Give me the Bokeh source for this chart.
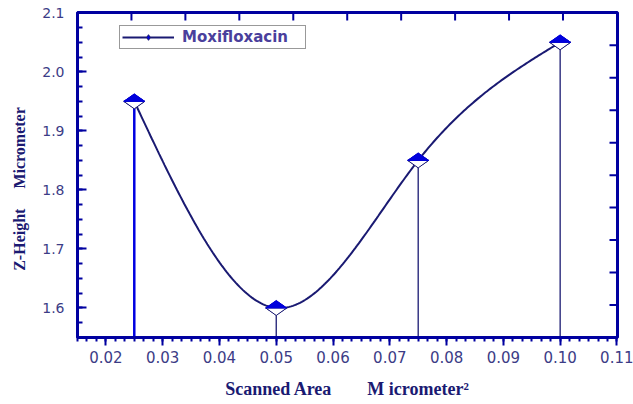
import numpy as np
from bokeh.plotting import figure
from bokeh.models import (SingleIntervalTicker, NumeralTickFormatter,
                          Range1d, Legend, LegendItem)
from bokeh.embed import file_html
from bokeh.resources import INLINE

# ---------------- data ----------------
scanned_area = [0.025, 0.050, 0.075, 0.100]
z_height = [1.95, 1.60, 1.85, 2.05]
series_name = "Moxifloxacin"
NB = "\u00a0"
x_title = "Scanned Area" + NB * 7 + " M" + NB + "icrometer\u00b2"
y_title = "Z-Height" + NB * 5 + "Micrometer" + NB * 7
top_ticks = [0.0245, 0.034, 0.0435, 0.053, 0.0625, 0.072, 0.0815, 0.091, 0.1005]
right_ticks = [1.605, 1.66, 1.715, 1.77, 1.825, 1.88, 1.935, 1.99, 2.045]

# ---------------- layout / style ----------------
X_START, X_END = 0.015, 0.1101
Y_START, Y_END = 1.55, 2.1005
FRAME_W, FRAME_H = 540, 325
AXIS_BLUE = "#0000a0"
NAVY = "#1a1a72"
TICK_LABEL = "#3c3c86"


def natural_spline(xs, ys, samples=240):
    xs = np.asarray(xs, float)
    ys = np.asarray(ys, float)
    n = len(xs)
    h = np.diff(xs)
    A = np.zeros((n, n))
    b = np.zeros(n)
    A[0, 0] = A[-1, -1] = 1.0
    for i in range(1, n - 1):
        A[i, i - 1] = h[i - 1]
        A[i, i] = 2 * (h[i - 1] + h[i])
        A[i, i + 1] = h[i]
        b[i] = 6 * ((ys[i + 1] - ys[i]) / h[i] - (ys[i] - ys[i - 1]) / h[i - 1])
    M = np.linalg.solve(A, b)
    xx = np.linspace(xs[0], xs[-1], samples)
    idx = np.clip(np.searchsorted(xs, xx) - 1, 0, n - 2)
    x0, x1 = xs[idx], xs[idx + 1]
    hh = x1 - x0
    t0, t1 = x1 - xx, xx - x0
    yy = ((M[idx] * t0 ** 3 + M[idx + 1] * t1 ** 3) / (6 * hh)
          + (ys[idx] / hh - M[idx] * hh / 6) * t0
          + (ys[idx + 1] / hh - M[idx + 1] * hh / 6) * t1)
    return xx, yy


p = figure(frame_width=FRAME_W, frame_height=FRAME_H,
           x_range=Range1d(X_START, X_END), y_range=Range1d(Y_START, Y_END),
           output_backend="svg", toolbar_location=None,
           min_border_left=77, min_border_right=16, min_border_top=12, min_border_bottom=67,
           background_fill_color="white", border_fill_color="white")
p.grid.visible = False
p.outline_line_color = AXIS_BLUE
p.outline_line_width = 3

# bottom axis
xa = p.xaxis[0]
xa.ticker = SingleIntervalTicker(interval=0.01, num_minor_ticks=6)
xa.formatter = NumeralTickFormatter(format="0.00")
xa.axis_line_color = AXIS_BLUE
xa.axis_line_width = 3
xa.major_tick_line_color = AXIS_BLUE
xa.major_tick_line_width = 2
xa.minor_tick_line_color = AXIS_BLUE
xa.minor_tick_line_width = 2
xa.major_tick_in = 0
xa.major_tick_out = 8
xa.minor_tick_in = 0
xa.minor_tick_out = 4
xa.major_label_standoff = 5
xa.major_label_text_font = "DejaVu Sans"
xa.major_label_text_font_size = "15px"
xa.major_label_text_color = TICK_LABEL
xa.axis_label = x_title
xa.axis_label_standoff = 13
xa.axis_label_text_font = "Liberation Serif"
xa.axis_label_text_font_style = "bold"
xa.axis_label_text_font_size = "18px"
xa.axis_label_text_color = NAVY

# left axis
ya = p.yaxis[0]
ya.ticker = SingleIntervalTicker(interval=0.1, num_minor_ticks=4)
ya.formatter = NumeralTickFormatter(format="0.0")
ya.axis_line_color = AXIS_BLUE
ya.axis_line_width = 3
ya.major_tick_line_color = AXIS_BLUE
ya.major_tick_line_width = 2
ya.minor_tick_line_color = AXIS_BLUE
ya.minor_tick_line_width = 2
ya.major_tick_in = 9
ya.major_tick_out = 0
ya.minor_tick_in = 5
ya.minor_tick_out = 0
ya.major_label_standoff = 13
ya.major_label_text_font = "DejaVu Sans"
ya.major_label_text_font_size = "14px"
ya.major_label_text_color = TICK_LABEL
ya.axis_label = y_title
ya.axis_label_standoff = 11
ya.axis_label_text_font = "Liberation Serif"
ya.axis_label_text_font_style = "bold"
ya.axis_label_text_font_size = "16px"
ya.axis_label_text_color = NAVY

# top and right inward ticks on the frame edges
p.ray(x=top_ticks, y=[Y_END] * len(top_ticks), length=8, length_units="screen",
      angle=-np.pi / 2, line_color=AXIS_BLUE, line_width=2)
p.ray(x=[X_END] * len(right_ticks), y=right_ticks, length=8, length_units="screen",
      angle=np.pi, line_color=AXIS_BLUE, line_width=2)

# drop lines
drop_colors = ["#0000e0", NAVY, NAVY, NAVY]
drop_widths = [2.5, 1.3, 1.3, 1.3]
p.segment(x0=scanned_area, y0=z_height, x1=scanned_area, y1=[Y_START] * len(scanned_area),
          line_color=drop_colors, line_width=drop_widths)

# spline curve
sx, sy = natural_spline(scanned_area, z_height)
line_r = p.line(sx, sy, line_color=NAVY, line_width=2)

# markers: rotated diamond (used for legend) + half-filled overlay
marker_r = p.scatter(scanned_area, z_height, marker="diamond", angle=np.pi / 2, size=21,
                     fill_color="#0000dd", line_color=NAVY, line_width=1)
px_x = (X_END - X_START) / FRAME_W
px_y = (Y_END - Y_START) / FRAME_H
hw, hh = 10.5 * px_x, 7.5 * px_y
top_xs = [[x - hw, x, x + hw] for x in scanned_area]
top_ys = [[y, y + hh, y] for y in z_height]
bot_ys = [[y, y - hh, y] for y in z_height]
p.patches(top_xs, bot_ys, fill_color="white", line_color=NAVY, line_width=1)
p.patches(top_xs, top_ys, fill_color="#0000dd", line_color="#0000dd", line_width=1)

legend = Legend(items=[LegendItem(label=series_name, renderers=[line_r, marker_r])],
                location=(42, 288), padding=2, spacing=0, margin=0,
                glyph_width=52, glyph_height=14, label_height=14, label_width=121,
                label_standoff=8,
                label_text_font="DejaVu Sans", label_text_font_style="bold",
                label_text_font_size="15px", label_text_color="#4a3f9c",
                border_line_color="#333333", border_line_width=1,
                background_fill_color="white", background_fill_alpha=1)
p.add_layout(legend, "center")

open("out.html", "w").write(file_html(p, INLINE))
